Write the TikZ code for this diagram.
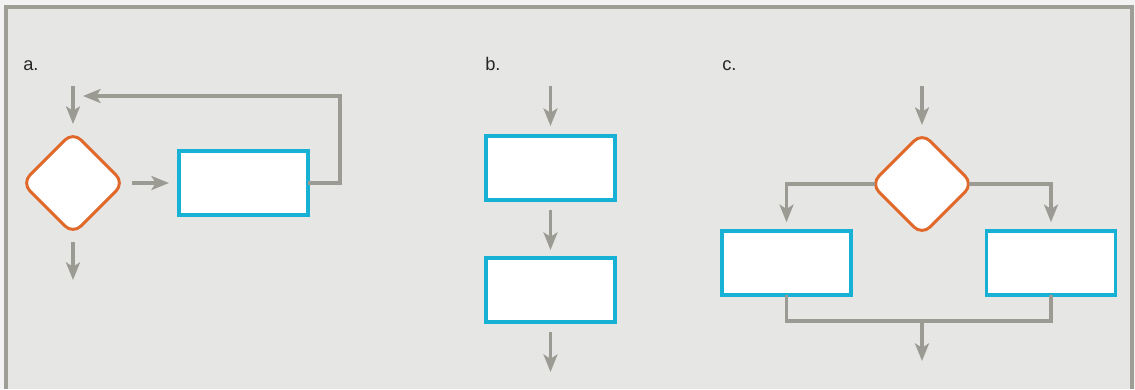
\documentclass[tikz,border=0pt]{standalone}
\usepackage{fontspec}
\setmainfont{Liberation Sans}
\usetikzlibrary{shapes.geometric,arrows.meta}
\definecolor{pagegray}{RGB}{242,242,242}
\definecolor{panelgray}{RGB}{230,230,228}
\definecolor{framegray}{RGB}{158,158,150}
\definecolor{linegray}{RGB}{155,155,147}
\definecolor{boxcyan}{RGB}{23,177,214}
\definecolor{diaorange}{RGB}{224,104,42}

\begin{document}
\begin{tikzpicture}[
  x=0.025cm, y=-0.025cm,
  procbox/.style={rectangle, draw=boxcyan, fill=white, line width=2.2pt,
                  minimum width=3.225cm, minimum height=1.6cm, inner sep=0pt,
                  outer sep=0pt},
  decision/.style={diamond, draw=diaorange, fill=white, line width=2.1pt,
                   minimum width=2.55cm, minimum height=2.55cm, aspect=1,
                   rounded corners=2.8mm, inner sep=0pt, outer sep=0pt},
  flow/.style={draw=linegray, line width=2.2pt,
               -{Stealth[length=4.4mm, width=3.5mm, inset=1.1mm]}},
  mergeline/.style={draw=linegray, line width=2.2pt},
  panellabel/.style={anchor=base west, inner sep=0pt,
                     font=\fontsize{13}{15}\selectfont, text=black!85}
]
  \useasboundingbox (0,0) rectangle (1135,389);
  \fill[pagegray] (0,0) rectangle (1135,389);
  \fill[panelgray] (6,7) rectangle (1132,389);
  \draw[framegray, line width=2.4pt] (6,389) -- (6,7) -- (1132,7) -- (1132,389);

  \node[panellabel] (la) at (23,70) {a.};
  \node[panellabel] (lb) at (485,70) {b.};
  \node[panellabel] (lc) at (722,70) {c.};

  % a.
  \node[decision] (da) at (73,183) {};
  \node[procbox]  (ra) at (243.5,183) {};
  \coordinate (ain) at (73,86);
  \coordinate (aout) at (73,280);
  \coordinate (aup) at (340,96);
  \coordinate (aback) at (83,96);
  \draw[flow, shorten >=0.2cm] (ain) -- (da.north);
  \draw[flow, shorten <=0.2cm] (da.south) -- (aout);
  \draw[flow, shorten <=0.2cm, shorten >=0.25cm] (da.east) -- (ra.west);
  \draw[flow] (ra.east) -| (aup) -- (aback);

  % b.
  \node[procbox] (rb1) at (550.5,168) {};
  \node[procbox] (rb2) at (550.5,290) {};
  \coordinate (bin) at (550.5,86);
  \coordinate (bout) at (550.5,372);
  \draw[flow, shorten >=0.25cm] (bin) -- (rb1.north);
  \draw[flow, shorten <=0.25cm, shorten >=0.2cm] (rb1.south) -- (rb2.north);
  \draw[flow, shorten <=0.25cm] (rb2.south) -- (bout);

  % c.
  \node[decision] (dc) at (922,184) {};
  \node[procbox]  (rcl) at (786.5,263) {};
  \node[procbox]  (rcr) at (1051,263) {};
  \coordinate (cin) at (922,86);
  \coordinate (cmerge) at (922,321);
  \coordinate (cout) at (922,361);
  \draw[flow, shorten >=0.2cm] (cin) -- (dc.north);
  \draw[flow, shorten <=-0.9mm, shorten >=0.22cm] (dc.west) -| (rcl.north);
  \draw[flow, shorten <=-0.9mm, shorten >=0.22cm] (dc.east) -| (rcr.north);
  \draw[mergeline] (rcl.south) |- (cmerge) -| (rcr.south);
  \draw[flow] (cmerge) -- (cout);
\end{tikzpicture}
\end{document}
